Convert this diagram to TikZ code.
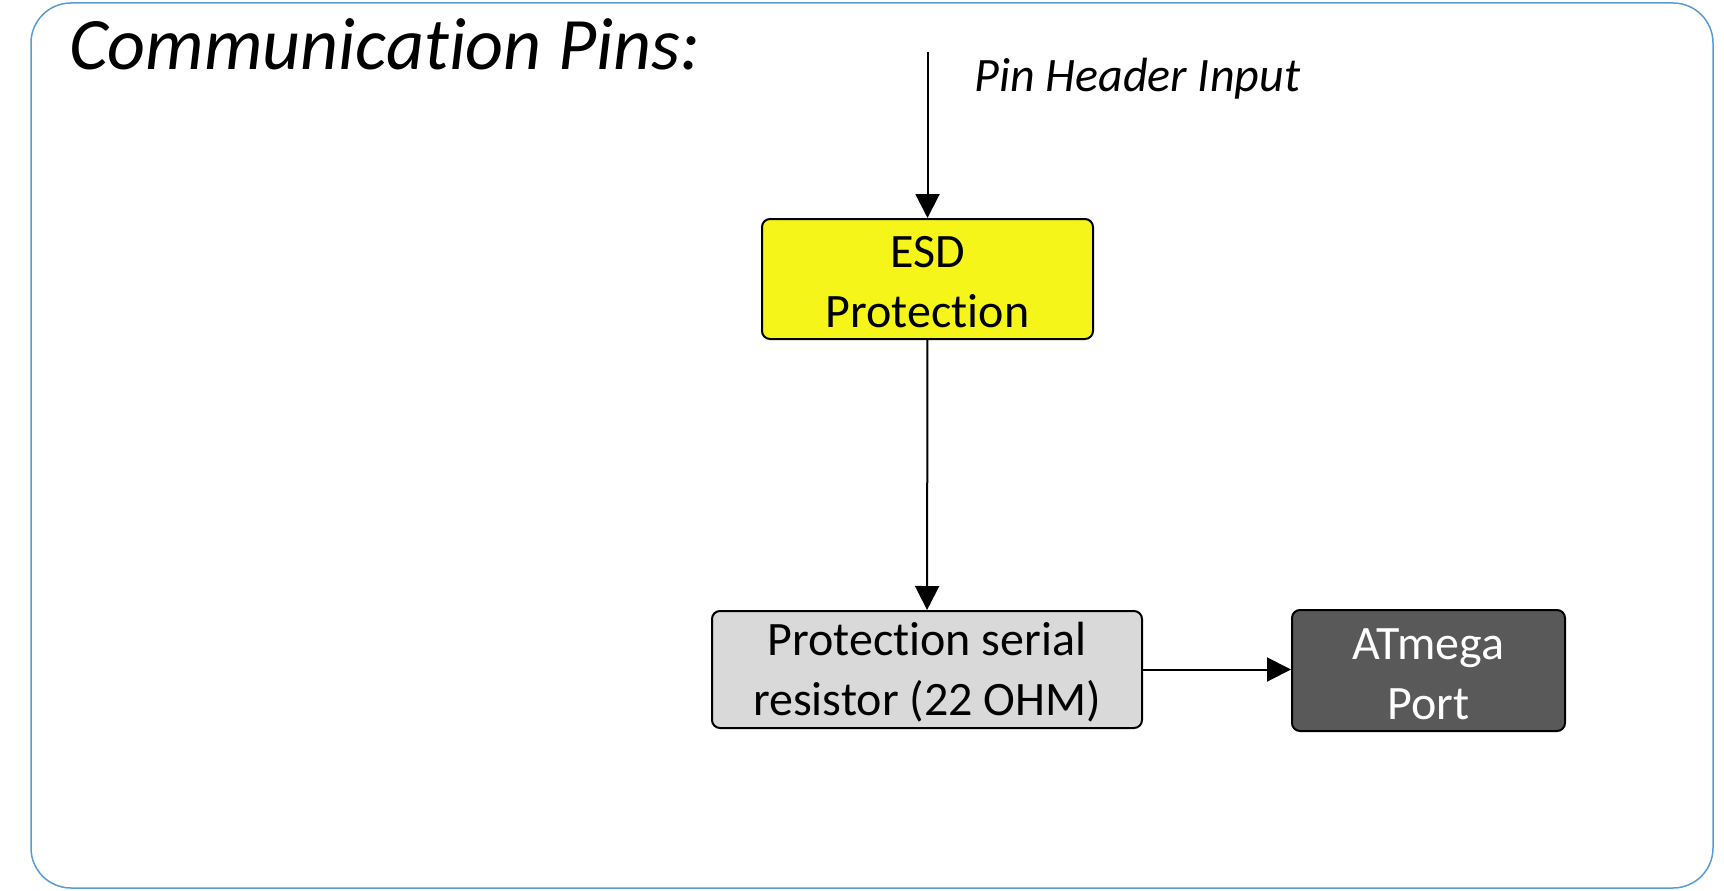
\documentclass[tikz,border=0pt]{standalone}
\usepackage{fontspec}
\setmainfont[Ligatures={NoCommon,NoContextual}, RawFeature={-liga;-clig;-calt}]{Carlito}
\usetikzlibrary{arrows.meta}
\definecolor{framecol}{HTML}{5B9BD5}
\definecolor{esdcol}{HTML}{F5F51A}
\definecolor{rescol}{HTML}{D9D9D9}
\definecolor{atmcol}{HTML}{595959}
\tikzset{%
  block/.style    = {shape=rectangle, rounded corners=8pt,%
                     draw, line width=2pt, align=center, inner sep=0pt,%
                     font=\fontsize{48}{60}\selectfont},%
  esdbox/.style   = {block, fill=esdcol, minimum width=331pt, minimum height=120pt},%
  resbox/.style   = {block, fill=rescol, minimum width=430pt, minimum height=117pt},%
  portbox/.style  = {block, fill=atmcol, text=white, minimum width=273pt, minimum height=121pt},%
  link/.style     = {-{Triangle[length=24pt,width=24pt]}, line width=2pt},%
  caption/.style  = {anchor=base west, inner sep=0pt, font=\itshape}%
}
\begin{document}
\begin{tikzpicture}[x=1pt, y=-1pt]%
	\useasboundingbox (0,0) rectangle (1724,891);%
	\draw[framecol, line width=1.5pt, rounded corners=40pt] (31,3) rectangle (1713,888);%
	\node [caption, font=\itshape\fontsize{74}{80}\selectfont] (title) at (69,70) {Communication Pins:};%
	\node [esdbox] (esd) at (927.5,279) {\rule{0pt}{38pt}ESD\\Protection};%
	\node [resbox] (res) at (927,669.5) {\rule{0pt}{38pt}Protection serial\\resistor (22 OHM)};%
	\node [portbox] (port) at (1428.5,670.5) {\rule{0pt}{38pt}ATmega\\Port};%
	\coordinate (pin) at (927.5,52);%
	\node [caption, font=\itshape\fontsize{48}{56}\selectfont] (pinlabel) at (974,92) {Pin Header Input};%
	\draw [link] (pin) -- (esd);%
	\draw [link] (esd) -- (res);%
	\draw [link] (res.east) -- (res.east -| port.west);%
\end{tikzpicture}
\end{document}
